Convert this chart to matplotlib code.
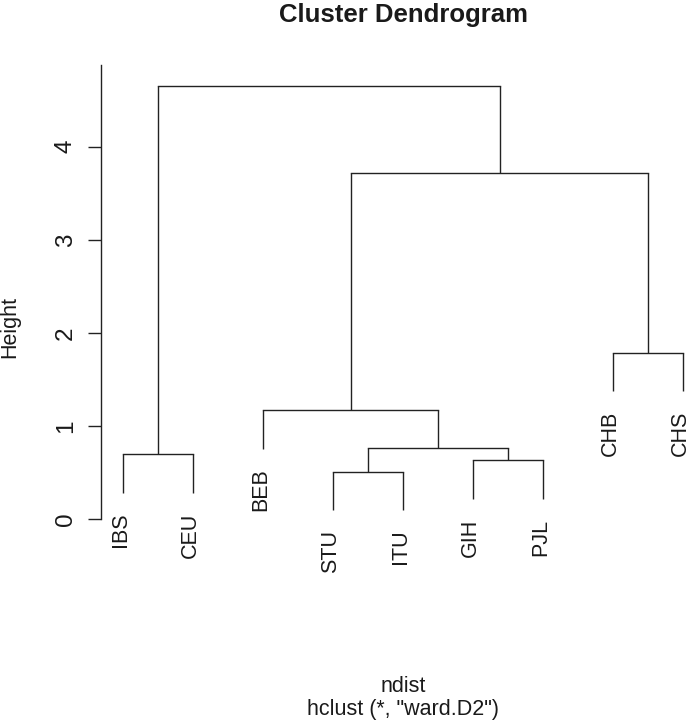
import numpy as np
import matplotlib
matplotlib.use('Agg')
import matplotlib.pyplot as plt

plt.rcParams['font.family'] = ['Liberation Sans', 'DejaVu Sans']

# leaves in plotting order
leaves = ['IBS', 'CEU', 'BEB', 'STU', 'ITU', 'GIH', 'PJL', 'CHB', 'CHS']
# R-style merge table: negative = leaf (1-based position), positive = earlier merge
merge_left = [-4, -6, -1, 1, -3, -8, 5, 3]
merge_right = [-5, -7, -2, 2, 4, -9, 6, 7]
heights = [0.507, 0.630, 0.695, 0.765, 1.17, 1.785, 3.72, 4.65]
yticks = [0, 1, 2, 3, 4]

HANG = 0.1
LINE = '#222222'
TEXT = '#1a1a1a'
FS = 15.5

W, H = 688, 723
fig = plt.figure(figsize=(W / 100, H / 100), dpi=100)

# plot region in pixels (R style, right edge runs past the figure)
left_px, right_px, top_px, bot_px = 101, 705.7, 65, 590
ax = fig.add_axes([left_px / W, 1 - bot_px / H,
                   (right_px - left_px) / W, (bot_px - top_px) / H])
ax.set_xlim(0.681, 9.32)
ax.set_ylim(-0.762, 4.877)

hang = HANG * (max(heights) - min(heights))
node_x = {}
for i, (a, b) in enumerate(zip(merge_left, merge_right)):
    h = heights[i]
    pts = []
    for c in (a, b):
        if c < 0:
            cx, cy = -c, h - hang
        else:
            cx, cy = node_x[c], heights[c - 1]
        ax.plot([cx, cx], [cy, h], color=LINE, lw=1.0, solid_capstyle='butt')
        pts.append(cx)
        if c < 0:
            ax.annotate(leaves[-c - 1], (cx, cy), xytext=(-2.2, -14),
                        textcoords='offset points', rotation=90,
                        ha='center', va='top', fontsize=FS, color=TEXT)
    ax.plot(pts, [h, h], color=LINE, lw=1.0, solid_capstyle='projecting')
    node_x[i + 1] = (pts[0] + pts[1]) / 2

for s in ['top', 'right', 'bottom']:
    ax.spines[s].set_visible(False)
ax.spines['left'].set_bounds(0, 4.877)
ax.spines['left'].set_color(LINE)
ax.spines['left'].set_linewidth(1.0)
ax.set_xticks([])
ax.set_yticks(yticks)
ax.set_yticklabels([str(t) for t in yticks], rotation=90, va='center',
                   fontsize=17.5, color=TEXT)
ax.tick_params(axis='y', length=9.4, width=1.0, color=LINE, pad=8)

cx = (left_px + right_px) / 2 / W
fig.text(cx, 1 - 21.7 / H, 'Cluster Dendrogram', ha='center', va='baseline',
         fontsize=18.5, fontweight='bold', color=TEXT)
fig.text(cx, 1 - 691.7 / H, 'ndist', ha='center', va='baseline',
         fontsize=FS, color=TEXT)
fig.text(cx, 1 - 715 / H, 'hclust (*, "ward.D2")', ha='center',
         va='baseline', fontsize=FS, color=TEXT)
fig.text(15 / W, 1 - 327 / H, 'Height', rotation=90, rotation_mode='anchor',
         ha='center', va='baseline', fontsize=FS, color=TEXT)

fig.savefig('out.png', dpi=100)
